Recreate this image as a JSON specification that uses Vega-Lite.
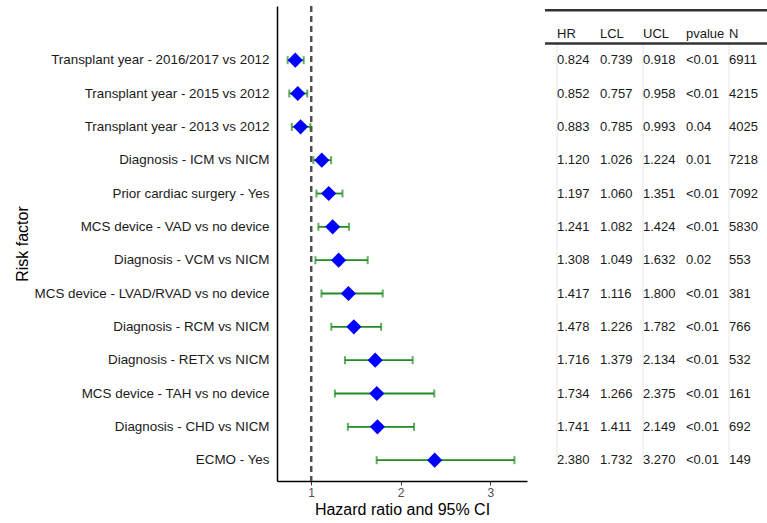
{
  "$schema": "https://vega.github.io/schema/vega-lite/v6.json",
  "background": "white",
  "padding": {"left": 14, "top": 5, "right": 0, "bottom": 5},
  "config": {
    "font": "Liberation Sans",
    "view": {"stroke": null},
    "axis": {"grid": false}
  },
  "datasets": {
    "rows": [
      {"factor": "Transplant year - 2016/2017 vs 2012", "HR": 0.824, "LCL": 0.739, "UCL": 0.918, "pvalue": "<0.01", "N": 6911},
      {"factor": "Transplant year - 2015 vs 2012", "HR": 0.852, "LCL": 0.757, "UCL": 0.958, "pvalue": "<0.01", "N": 4215},
      {"factor": "Transplant year - 2013 vs 2012", "HR": 0.883, "LCL": 0.785, "UCL": 0.993, "pvalue": "0.04", "N": 4025},
      {"factor": "Diagnosis - ICM vs NICM", "HR": 1.120, "LCL": 1.026, "UCL": 1.224, "pvalue": "0.01", "N": 7218},
      {"factor": "Prior cardiac surgery - Yes", "HR": 1.197, "LCL": 1.060, "UCL": 1.351, "pvalue": "<0.01", "N": 7092},
      {"factor": "MCS device - VAD vs no device", "HR": 1.241, "LCL": 1.082, "UCL": 1.424, "pvalue": "<0.01", "N": 5830},
      {"factor": "Diagnosis - VCM vs NICM", "HR": 1.308, "LCL": 1.049, "UCL": 1.632, "pvalue": "0.02", "N": 553},
      {"factor": "MCS device - LVAD/RVAD vs no device", "HR": 1.417, "LCL": 1.116, "UCL": 1.800, "pvalue": "<0.01", "N": 381},
      {"factor": "Diagnosis - RCM vs NICM", "HR": 1.478, "LCL": 1.226, "UCL": 1.782, "pvalue": "<0.01", "N": 766},
      {"factor": "Diagnosis - RETX vs NICM", "HR": 1.716, "LCL": 1.379, "UCL": 2.134, "pvalue": "<0.01", "N": 532},
      {"factor": "MCS device - TAH vs no device", "HR": 1.734, "LCL": 1.266, "UCL": 2.375, "pvalue": "<0.01", "N": 161},
      {"factor": "Diagnosis - CHD vs NICM", "HR": 1.741, "LCL": 1.411, "UCL": 2.149, "pvalue": "<0.01", "N": 692},
      {"factor": "ECMO - Yes", "HR": 2.380, "LCL": 1.732, "UCL": 3.270, "pvalue": "<0.01", "N": 149}
    ],
    "cols": [{"col": "HR"}, {"col": "LCL"}, {"col": "UCL"}, {"col": "pvalue"}, {"col": "N"}],
    "lines": [{"col": "HR"}, {"col": "UCL"}, {"col": "N"}]
  },
  "hconcat": [
    {
      "width": 250,
      "height": 475,
      "data": {"name": "rows"},
      "layer": [
        {
          "mark": {"type": "rule", "strokeDash": [6, 4], "strokeWidth": 2, "color": "#505050"},
          "encoding": {"x": {"datum": 1, "type": "quantitative"}}
        },
        {
          "mark": {"type": "rule", "color": "#228B22", "strokeWidth": 1.8},
          "encoding": {
            "y": {"field": "factor", "type": "nominal"},
            "x": {"field": "LCL", "type": "quantitative"},
            "x2": {"field": "UCL"}
          }
        },
        {
          "mark": {"type": "tick", "color": "#228B22", "thickness": 2, "size": 8, "orient": "vertical"},
          "encoding": {
            "y": {"field": "factor", "type": "nominal"},
            "x": {"field": "LCL", "type": "quantitative"}
          }
        },
        {
          "mark": {"type": "tick", "color": "#228B22", "thickness": 2, "size": 8, "orient": "vertical"},
          "encoding": {
            "y": {"field": "factor", "type": "nominal"},
            "x": {"field": "UCL", "type": "quantitative"}
          }
        },
        {
          "mark": {"type": "point", "shape": "diamond", "filled": true, "color": "#0000FF", "size": 230, "opacity": 1},
          "encoding": {
            "y": {"field": "factor", "type": "nominal"},
            "x": {"field": "HR", "type": "quantitative"}
          }
        }
      ],
      "encoding": {
        "x": {
          "type": "quantitative",
          "scale": {"domain": [0.62, 3.41], "nice": false, "zero": false},
          "axis": {
            "values": [1, 2, 3],
            "title": "Hazard ratio and 95% CI",
            "titleFontSize": 16,
            "titleFontWeight": "normal",
            "titleColor": "#000000",
            "titlePadding": 3,
            "labelFontSize": 12,
            "labelColor": "#4d4d4d",
            "tickColor": "#333333",
            "tickSize": 4,
            "domainColor": "#000000",
            "domainWidth": 1.5
          }
        },
        "y": {
          "type": "nominal",
          "sort": null,
          "scale": {
            "domain": [" ", "Transplant year - 2016/2017 vs 2012", "Transplant year - 2015 vs 2012", "Transplant year - 2013 vs 2012", "Diagnosis - ICM vs NICM", "Prior cardiac surgery - Yes", "MCS device - VAD vs no device", "Diagnosis - VCM vs NICM", "MCS device - LVAD/RVAD vs no device", "Diagnosis - RCM vs NICM", "Diagnosis - RETX vs NICM", "MCS device - TAH vs no device", "Diagnosis - CHD vs NICM", "ECMO - Yes"],
            "paddingInner": 0,
            "paddingOuter": 0.125
          },
          "axis": {
            "title": "Risk factor",
            "titleFontSize": 16,
            "titleFontWeight": "normal",
            "titleColor": "#000000",
            "titleX": -250,
            "titleBaseline": "alphabetic",
            "labelFontSize": 13.4,
            "labelLimit": 400,
            "labelColor": "#1a1a1a",
            "labelPadding": 8,
            "ticks": false,
            "domainColor": "#000000",
            "domainWidth": 1.5
          }
        }
      }
    },
    {
      "width": 222,
      "height": 475,
      "encoding": {
        "x": {
          "type": "nominal",
          "scale": {"domain": ["HR", "LCL", "UCL", "pvalue", "N"], "range": [12, 227], "paddingInner": 0, "paddingOuter": 0},
          "axis": null
        },
        "y": {
          "type": "nominal",
          "scale": {
            "domain": [" ", "Transplant year - 2016/2017 vs 2012", "Transplant year - 2015 vs 2012", "Transplant year - 2013 vs 2012", "Diagnosis - ICM vs NICM", "Prior cardiac surgery - Yes", "MCS device - VAD vs no device", "Diagnosis - VCM vs NICM", "MCS device - LVAD/RVAD vs no device", "Diagnosis - RCM vs NICM", "Diagnosis - RETX vs NICM", "MCS device - TAH vs no device", "Diagnosis - CHD vs NICM", "ECMO - Yes"],
            "paddingInner": 0,
            "paddingOuter": 0.125
          },
          "axis": null
        }
      },
      "layer": [
        {
          "data": {"name": "lines"},
          "mark": {"type": "rule", "color": "#e6e6e6", "strokeWidth": 1},
          "encoding": {
            "x": {"field": "col", "type": "nominal", "bandPosition": 0},
            "y": {"datum": " ", "type": "nominal", "bandPosition": 1},
            "y2": {"datum": "ECMO - Yes"}
          }
        },
        {
          "data": {"values": [{"k": 1}]},
          "mark": {"type": "rule", "color": "#333333", "strokeWidth": 2.5},
          "encoding": {"y": {"datum": " ", "type": "nominal", "bandPosition": 0}}
        },
        {
          "data": {"values": [{"k": 1}]},
          "mark": {"type": "rule", "color": "#333333", "strokeWidth": 2.5},
          "encoding": {"y": {"datum": " ", "type": "nominal", "bandPosition": 1}}
        },
        {
          "data": {"name": "cols"},
          "mark": {"type": "text", "align": "left", "baseline": "middle", "fontSize": 13, "color": "#1a1a1a"},
          "encoding": {
            "x": {"field": "col", "type": "nominal", "bandPosition": 0},
            "y": {"datum": " ", "type": "nominal", "bandPosition": 0.72},
            "text": {"field": "col"}
          }
        },
        {
          "data": {"name": "rows"},
          "mark": {"type": "text", "align": "left", "baseline": "middle", "fontSize": 13, "color": "#1a1a1a"},
          "encoding": {
            "x": {"datum": "HR", "type": "nominal", "bandPosition": 0},
            "y": {"field": "factor", "type": "nominal"},
            "text": {"field": "HR", "format": ".3f"}
          }
        },
        {
          "data": {"name": "rows"},
          "mark": {"type": "text", "align": "left", "baseline": "middle", "fontSize": 13, "color": "#1a1a1a"},
          "encoding": {
            "x": {"datum": "LCL", "type": "nominal", "bandPosition": 0},
            "y": {"field": "factor", "type": "nominal"},
            "text": {"field": "LCL", "format": ".3f"}
          }
        },
        {
          "data": {"name": "rows"},
          "mark": {"type": "text", "align": "left", "baseline": "middle", "fontSize": 13, "color": "#1a1a1a"},
          "encoding": {
            "x": {"datum": "UCL", "type": "nominal", "bandPosition": 0},
            "y": {"field": "factor", "type": "nominal"},
            "text": {"field": "UCL", "format": ".3f"}
          }
        },
        {
          "data": {"name": "rows"},
          "mark": {"type": "text", "align": "left", "baseline": "middle", "fontSize": 13, "color": "#1a1a1a"},
          "encoding": {
            "x": {"datum": "pvalue", "type": "nominal", "bandPosition": 0},
            "y": {"field": "factor", "type": "nominal"},
            "text": {"field": "pvalue"}
          }
        },
        {
          "data": {"name": "rows"},
          "mark": {"type": "text", "align": "left", "baseline": "middle", "fontSize": 13, "color": "#1a1a1a"},
          "encoding": {
            "x": {"datum": "N", "type": "nominal", "bandPosition": 0},
            "y": {"field": "factor", "type": "nominal"},
            "text": {"field": "N"}
          }
        }
      ]
    }
  ],
  "spacing": 16
}
